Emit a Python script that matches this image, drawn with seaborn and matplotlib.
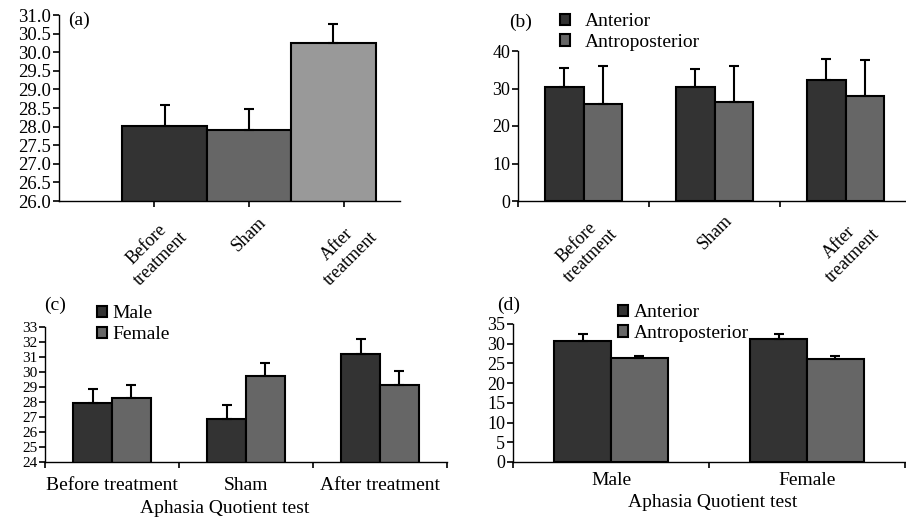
import numpy as np
import pandas as pd
import matplotlib
matplotlib.use('Agg')
import matplotlib.pyplot as plt
from matplotlib.ticker import FormatStrFormatter, MultipleLocator
import seaborn as sns

# values
conditions = ['Before\ntreatment', 'Sham', 'After\ntreatment']
conditions_flat = ['Before treatment', 'Sham', 'After treatment']

a_mean = [28.02, 27.92, 30.25]
a_err = [0.55, 0.55, 0.52]

sites = ['Anterior', 'Antroposterior']
b_anterior = [30.5, 30.5, 32.4]
b_anterior_err = [4.9, 4.6, 5.5]
b_antpost = [25.95, 26.3, 28.0]
b_antpost_err = [10.0, 9.7, 9.5]

sexes = ['Male', 'Female']
c_male = [27.95, 26.9, 31.2]
c_male_err = [0.95, 0.9, 0.98]
c_female = [28.27, 29.75, 29.1]
c_female_err = [0.86, 0.85, 1.0]

d_anterior = [30.7, 31.1]
d_anterior_err = [1.8, 1.4]
d_antpost = [26.3, 26.2]
d_antpost_err = [0.6, 0.7]

dark, mid, light = '#333333', '#666666', '#999999'

sns.set_style('ticks', {'axes.edgecolor': 'black', 'text.color': 'black',
                        'xtick.color': 'black', 'ytick.color': 'black',
                        'axes.labelcolor': 'black'})
plt.rcParams['font.family'] = ['Liberation Serif', 'DejaVu Serif']

fig = plt.figure(figsize=(9.06, 5.21), dpi=100)
W, H = 906.0, 521.0


def px_axes(left, right, bottom, top):
    return fig.add_axes([left / W, 1 - bottom / H, (right - left) / W, (bottom - top) / H])


def add_errors(ax, errs):
    # one container per hue level, bars in category order
    for cont, err in zip(ax.containers, errs):
        xs = [b.get_x() + b.get_width() / 2 for b in cont.patches]
        hs = [b.get_height() for b in cont.patches]
        ax.errorbar(xs, hs, yerr=[np.zeros(len(err)), err], fmt='none',
                    ecolor='black', elinewidth=1.5, capsize=3.5, capthick=1.5, zorder=5)


def style_axes(ax):
    sns.despine(ax=ax)
    for s in ['left', 'bottom']:
        ax.spines[s].set_linewidth(1.0)
    ax.tick_params(axis='y', direction='out', length=4.5, width=1.2, pad=1)
    ax.set_xlabel('')
    ax.set_ylabel('')


# (a)
ax = px_axes(59, 400, 201, 15)
df_a = pd.DataFrame({'cond': conditions, 'score': a_mean})
sns.barplot(data=df_a, x='cond', y='score', hue='cond', order=conditions,
            hue_order=conditions, palette=[dark, mid, light], width=1.0,
            edgecolor='black', linewidth=1.5, legend=False, ax=ax)
add_errors(ax, [[e] for e in a_err])
style_axes(ax)
ax.set_ylim(26, 31)
ax.yaxis.set_major_locator(MultipleLocator(0.5))
ax.yaxis.set_major_formatter(FormatStrFormatter('%.1f'))
ax.set_xlim(-1.25, 2.79)
ax.set_xticks([-0.124, 1.0, 2.124], conditions, rotation=45, ha='center')
ax.tick_params(axis='x', direction='out', length=4.5, width=1.2, pad=5, labelsize=13)
ax.tick_params(axis='y', labelsize=13.5)

# (b)
ax = px_axes(518, 906, 201, 51)
df_b = pd.DataFrame({'cond': conditions * 2,
                     'site': [sites[0]] * 3 + [sites[1]] * 3,
                     'score': b_anterior + b_antpost})
sns.barplot(data=df_b, x='cond', y='score', hue='site', order=conditions,
            hue_order=sites, palette=[dark, mid], width=0.59,
            edgecolor='black', linewidth=1.5, ax=ax)
add_errors(ax, [b_anterior_err, b_antpost_err])
style_axes(ax)
ax.set_ylim(0, 40)
ax.yaxis.set_major_locator(MultipleLocator(10))
ax.set_xlim(-0.5, 2.46)
ax.set_xticks([0, 1, 2], conditions, rotation=45, ha='center')
ax.set_xticks([-0.5, 0.5, 1.5], minor=True)
ax.tick_params(axis='x', which='major', length=0, pad=8, labelsize=13)
ax.tick_params(axis='x', which='minor', direction='out', length=4.5, width=1.2)
ax.tick_params(axis='y', labelsize=13)
sns.move_legend(ax, 'upper left', bbox_to_anchor=(560 / W, 1 - 13 / H),
                bbox_transform=fig.transFigure, frameon=False, title=None,
                fontsize=14, handlelength=0.5, handleheight=0.5,
                handletextpad=0.8, labelspacing=0.2, borderpad=0, borderaxespad=0)

# (c)
ax = px_axes(45, 447, 462, 327)
df_c = pd.DataFrame({'cond': conditions_flat * 2,
                     'sex': [sexes[0]] * 3 + [sexes[1]] * 3,
                     'score': c_male + c_female})
sns.barplot(data=df_c, x='cond', y='score', hue='sex', order=conditions_flat,
            hue_order=sexes, palette=[dark, mid], width=0.58,
            edgecolor='black', linewidth=1.5, ax=ax)
add_errors(ax, [c_male_err, c_female_err])
style_axes(ax)
ax.set_ylim(24, 33)
ax.yaxis.set_major_locator(MultipleLocator(1))
ax.set_xlim(-0.5, 2.5)
ax.set_xticks([0, 1, 2], conditions_flat)
ax.set_xticks([-0.5, 0.5, 1.5, 2.5], minor=True)
ax.tick_params(axis='x', which='major', length=0, pad=10.5, labelsize=14)
ax.tick_params(axis='x', which='minor', direction='out', length=4.5, width=1.2)
ax.tick_params(axis='y', labelsize=11)
ax.set_xlabel('Aphasia Quotient test', fontsize=14)
ax.xaxis.set_label_coords(0.447, -0.28)
sns.move_legend(ax, 'upper left', bbox_to_anchor=(97 / W, 1 - 305 / H),
                bbox_transform=fig.transFigure, frameon=False, title=None,
                fontsize=14, handlelength=0.5, handleheight=0.5,
                handletextpad=0.3, labelspacing=0.22, borderpad=0, borderaxespad=0)

# (d)
ax = px_axes(513, 906, 462, 324)
df_d = pd.DataFrame({'sex': sexes * 2,
                     'site': [sites[0]] * 2 + [sites[1]] * 2,
                     'score': d_anterior + d_antpost})
sns.barplot(data=df_d, x='sex', y='score', hue='site', order=sexes,
            hue_order=sites, palette=[dark, mid], width=0.58,
            edgecolor='black', linewidth=1.5, ax=ax)
add_errors(ax, [d_anterior_err, d_antpost_err])
style_axes(ax)
ax.set_ylim(0, 35)
ax.yaxis.set_major_locator(MultipleLocator(5))
ax.set_xlim(-0.5, 1.505)
ax.set_xticks([0, 1], sexes)
ax.set_xticks([-0.5, 0.5, 1.5], minor=True)
ax.tick_params(axis='x', which='major', length=0, pad=7.5, labelsize=14)
ax.tick_params(axis='x', which='minor', direction='out', length=4.5, width=1.2)
ax.tick_params(axis='y', labelsize=13)
ax.set_xlabel('Aphasia Quotient test', fontsize=14)
ax.xaxis.set_label_coords(0.509, -0.232)
sns.move_legend(ax, 'upper left', bbox_to_anchor=(618 / W, 1 - 304 / H),
                bbox_transform=fig.transFigure, frameon=False, title=None,
                fontsize=14, handlelength=0.5, handleheight=0.5,
                handletextpad=0.3, labelspacing=0.2, borderpad=0, borderaxespad=0)

# panel letters
for letter, x, y in [('(a)', 79, 20), ('(b)', 521, 22), ('(c)', 55, 305), ('(d)', 509, 305)]:
    fig.text(x / W, 1 - y / H, letter, fontsize=14, ha='center', va='center')

fig.savefig('out.png', dpi=100)
